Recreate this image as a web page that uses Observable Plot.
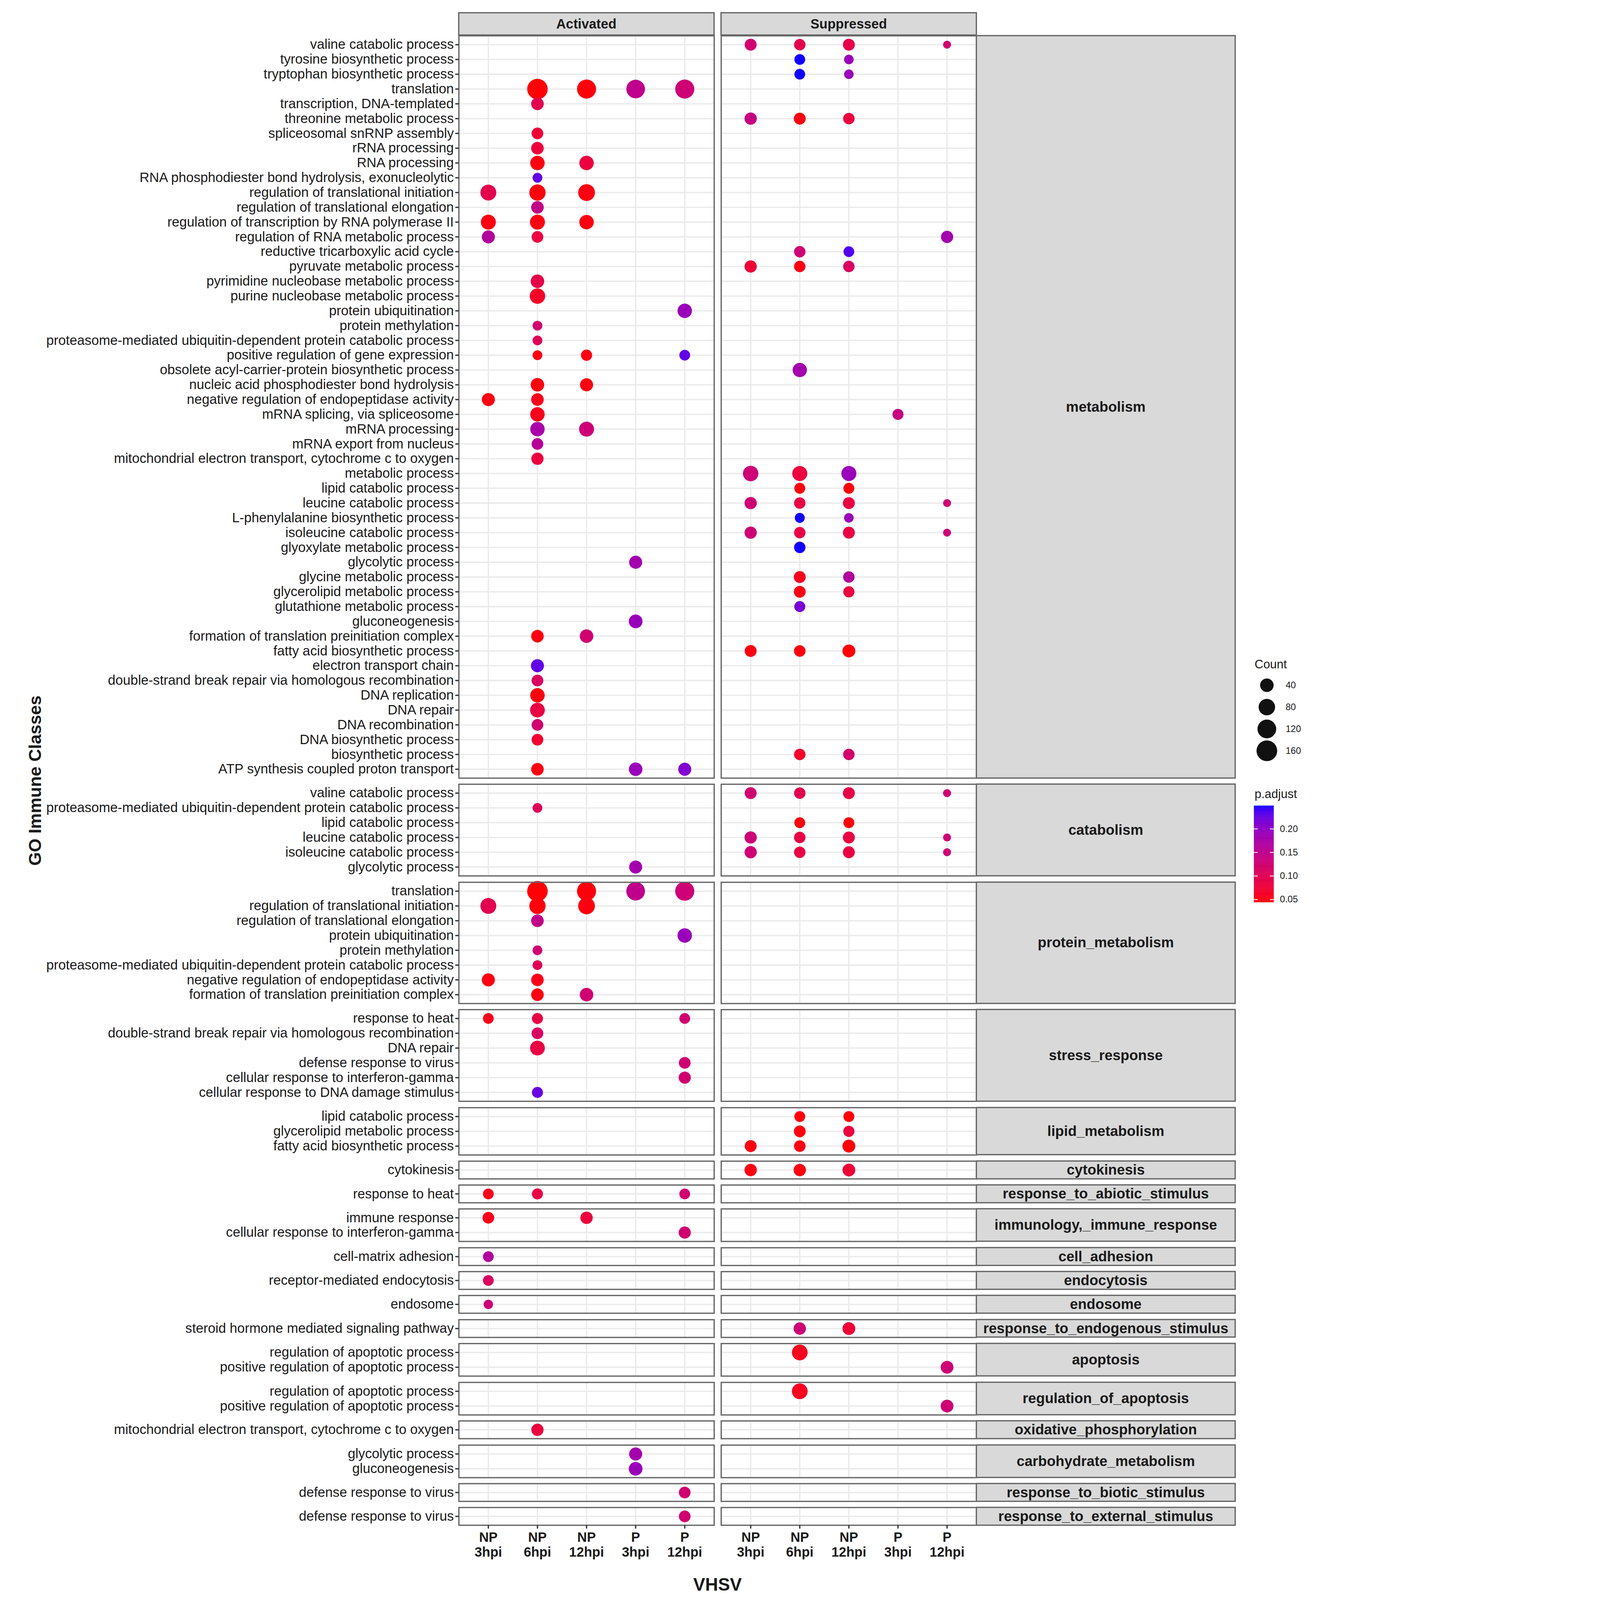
<!DOCTYPE html>
<html><head><meta charset="utf-8">
<script src="https://cdn.jsdelivr.net/npm/d3@7"></script>
<script src="https://cdn.jsdelivr.net/npm/@observablehq/plot@0.6"></script>
<style>
html,body{margin:0;padding:0;background:#fff;overflow:hidden;}
#chart{position:absolute;left:0;top:0;width:4152px;height:5026px;background:#fff;font-family:"Liberation Sans",Arial,sans-serif;overflow:hidden;color:#1a1a1a;transform-origin:0 0;}
.strip{position:absolute;background:#D9D9D9;border:4px solid #666;box-sizing:border-box;display:flex;align-items:center;justify-content:center;font-weight:bold;color:#1a1a1a;white-space:nowrap;}
.txt{position:absolute;white-space:nowrap;line-height:1;}
</style></head><body><div id="chart"></div><script>
// ---------------- data ----------------
const conditions = ["NP3","NP6","NP12","P3","P12"];
const conditionTicks = ["NP\n3hpi","NP\n6hpi","NP\n12hpi","P\n3hpi","P\n12hpi"];
const directions = ["Activated","Suppressed"];
const classNames = ["metabolism","catabolism","protein_metabolism","stress_response","lipid_metabolism","cytokinesis","response_to_abiotic_stimulus","immunology,_immune_response","cell_adhesion","endocytosis","endosome","response_to_endogenous_stimulus","apoptosis","regulation_of_apoptosis","oxidative_phosphorylation","carbohydrate_metabolism","response_to_biotic_stimulus","response_to_external_stimulus"];
const metabolismTerms = ["valine catabolic process","tyrosine biosynthetic process","tryptophan biosynthetic process","translation","transcription, DNA-templated","threonine metabolic process","spliceosomal snRNP assembly","rRNA processing","RNA processing","RNA phosphodiester bond hydrolysis, exonucleolytic","regulation of translational initiation","regulation of translational elongation","regulation of transcription by RNA polymerase II","regulation of RNA metabolic process","reductive tricarboxylic acid cycle","pyruvate metabolic process","pyrimidine nucleobase metabolic process","purine nucleobase metabolic process","protein ubiquitination","protein methylation","proteasome-mediated ubiquitin-dependent protein catabolic process","positive regulation of gene expression","obsolete acyl-carrier-protein biosynthetic process","nucleic acid phosphodiester bond hydrolysis","negative regulation of endopeptidase activity","mRNA splicing, via spliceosome","mRNA processing","mRNA export from nucleus","mitochondrial electron transport, cytochrome c to oxygen","metabolic process","lipid catabolic process","leucine catabolic process","L-phenylalanine biosynthetic process","isoleucine catabolic process","glyoxylate metabolic process","glycolytic process","glycine metabolic process","glycerolipid metabolic process","glutathione metabolic process","gluconeogenesis","formation of translation preinitiation complex","fatty acid biosynthetic process","electron transport chain","double-strand break repair via homologous recombination","DNA replication","DNA repair","DNA recombination","DNA biosynthetic process","biosynthetic process","ATP synthesis coupled proton transport"];
const classTerms = [
  metabolismTerms,
  ["valine catabolic process","proteasome-mediated ubiquitin-dependent protein catabolic process","lipid catabolic process","leucine catabolic process","isoleucine catabolic process","glycolytic process"],
  ["translation","regulation of translational initiation","regulation of translational elongation","protein ubiquitination","protein methylation","proteasome-mediated ubiquitin-dependent protein catabolic process","negative regulation of endopeptidase activity","formation of translation preinitiation complex"],
  ["response to heat","double-strand break repair via homologous recombination","DNA repair","defense response to virus","cellular response to interferon-gamma","cellular response to DNA damage stimulus"],
  ["lipid catabolic process","glycerolipid metabolic process","fatty acid biosynthetic process"],
  ["cytokinesis"],
  ["response to heat"],
  ["immune response","cellular response to interferon-gamma"],
  ["cell-matrix adhesion"],
  ["receptor-mediated endocytosis"],
  ["endosome"],
  ["steroid hormone mediated signaling pathway"],
  ["regulation of apoptotic process","positive regulation of apoptotic process"],
  ["regulation of apoptotic process","positive regulation of apoptotic process"],
  ["mitochondrial electron transport, cytochrome c to oxygen"],
  ["glycolytic process","gluconeogenesis"],
  ["defense response to virus"],
  ["defense response to virus"]
];
// [term, condition, Count, p.adjust]
const activated = [
  ["translation","NP6",156,0.046],["translation","NP12",126,0.048],["translation","P3",118,0.15],["translation","P12",126,0.13],
  ["transcription, DNA-templated","NP6",30,0.095],
  ["spliceosomal snRNP assembly","NP6",22,0.075],
  ["rRNA processing","NP6",30,0.08],
  ["RNA processing","NP6",51,0.05],["RNA processing","NP12",51,0.08],
  ["RNA phosphodiester bond hydrolysis, exonucleolytic","NP6",9,0.228],
  ["regulation of translational initiation","NP3",71,0.095],["regulation of translational initiation","NP6",77,0.048],["regulation of translational initiation","NP12",85,0.05],
  ["regulation of translational elongation","NP6",30,0.145],
  ["regulation of transcription by RNA polymerase II","NP3",58,0.05],["regulation of transcription by RNA polymerase II","NP6",58,0.05],["regulation of transcription by RNA polymerase II","NP12",51,0.05],
  ["regulation of RNA metabolic process","NP3",35,0.165],["regulation of RNA metabolic process","NP6",22,0.08],
  ["pyrimidine nucleobase metabolic process","NP6",40,0.09],
  ["purine nucleobase metabolic process","NP6",64,0.062],
  ["protein ubiquitination","P12",51,0.19],
  ["protein methylation","NP6",9,0.125],
  ["proteasome-mediated ubiquitin-dependent protein catabolic process","NP6",9,0.10],
  ["positive regulation of gene expression","NP6",9,0.05],["positive regulation of gene expression","NP12",18,0.05],["positive regulation of gene expression","P12",15,0.228],
  ["nucleic acid phosphodiester bond hydrolysis","NP6",40,0.048],["nucleic acid phosphodiester bond hydrolysis","NP12",35,0.05],
  ["negative regulation of endopeptidase activity","NP3",35,0.05],["negative regulation of endopeptidase activity","NP6",30,0.055],
  ["mRNA splicing, via spliceosome","NP6",51,0.055],
  ["mRNA processing","NP6",51,0.175],["mRNA processing","NP12",58,0.13],
  ["mRNA export from nucleus","NP6",22,0.16],
  ["mitochondrial electron transport, cytochrome c to oxygen","NP6",27,0.08],
  ["glycolytic process","P3",35,0.18],
  ["gluconeogenesis","P3",42,0.19],
  ["formation of translation preinitiation complex","NP6",30,0.05],["formation of translation preinitiation complex","NP12",40,0.125],
  ["electron transport chain","NP6",35,0.228],
  ["double-strand break repair via homologous recombination","NP6",22,0.11],
  ["DNA replication","NP6",51,0.048],
  ["DNA repair","NP6",55,0.085],
  ["DNA recombination","NP6",22,0.125],
  ["DNA biosynthetic process","NP6",22,0.07],
  ["ATP synthesis coupled proton transport","NP6",30,0.05],["ATP synthesis coupled proton transport","P3",40,0.19],["ATP synthesis coupled proton transport","P12",35,0.21],
  ["response to heat","NP3",15,0.055],["response to heat","NP6",17,0.085],["response to heat","P12",15,0.125],
  ["defense response to virus","P12",22,0.125],
  ["cellular response to interferon-gamma","P12",26,0.125],
  ["cellular response to DNA damage stimulus","NP6",17,0.225],
  ["immune response","NP3",22,0.055],["immune response","NP12",28,0.08],
  ["cell-matrix adhesion","NP3",15,0.165],
  ["receptor-mediated endocytosis","NP3",15,0.11],
  ["endosome","NP3",7,0.13]
];
const suppressed = [
  ["valine catabolic process","NP3",24,0.125],["valine catabolic process","NP6",20,0.095],["valine catabolic process","NP12",24,0.09],["valine catabolic process","P12",2,0.125],
  ["tyrosine biosynthetic process","NP6",15,0.248],["tyrosine biosynthetic process","NP12",8,0.19],
  ["tryptophan biosynthetic process","NP6",15,0.248],["tryptophan biosynthetic process","NP12",8,0.19],
  ["threonine metabolic process","NP3",27,0.14],["threonine metabolic process","NP6",24,0.05],["threonine metabolic process","NP12",20,0.08],
  ["regulation of RNA metabolic process","P12",27,0.18],
  ["reductive tricarboxylic acid cycle","NP6",20,0.13],["reductive tricarboxylic acid cycle","NP12",15,0.235],
  ["pyruvate metabolic process","NP3",27,0.075],["pyruvate metabolic process","NP6",20,0.05],["pyruvate metabolic process","NP12",20,0.11],
  ["obsolete acyl-carrier-protein biosynthetic process","NP6",49,0.18],
  ["mRNA splicing, via spliceosome","P3",17,0.14],
  ["metabolic process","NP3",64,0.13],["metabolic process","NP6",59,0.08],["metabolic process","NP12",59,0.19],
  ["lipid catabolic process","NP6",16,0.048],["lipid catabolic process","NP12",16,0.046],
  ["leucine catabolic process","NP3",27,0.13],["leucine catabolic process","NP6",20,0.085],["leucine catabolic process","NP12",24,0.085],["leucine catabolic process","P12",2,0.13],
  ["L-phenylalanine biosynthetic process","NP6",10,0.248],["L-phenylalanine biosynthetic process","NP12",8,0.19],
  ["isoleucine catabolic process","NP3",27,0.13],["isoleucine catabolic process","NP6",20,0.085],["isoleucine catabolic process","NP12",24,0.085],["isoleucine catabolic process","P12",2,0.13],
  ["glyoxylate metabolic process","NP6",20,0.248],
  ["glycine metabolic process","NP6",24,0.055],["glycine metabolic process","NP12",20,0.165],
  ["glycerolipid metabolic process","NP6",23,0.05],["glycerolipid metabolic process","NP12",18,0.08],
  ["glutathione metabolic process","NP6",17,0.215],
  ["fatty acid biosynthetic process","NP3",24,0.05],["fatty acid biosynthetic process","NP6",21,0.05],["fatty acid biosynthetic process","NP12",33,0.046],
  ["biosynthetic process","NP6",20,0.065],["biosynthetic process","NP12",20,0.12],
  ["cytokinesis","NP3",28,0.05],["cytokinesis","NP6",28,0.05],["cytokinesis","NP12",32,0.075],
  ["steroid hormone mediated signaling pathway","NP6",28,0.13],["steroid hormone mediated signaling pathway","NP12",32,0.075],
  ["regulation of apoptotic process","NP6",69,0.058],
  ["positive regulation of apoptotic process","P12",32,0.13]
];
const sizeBreaks = [40,80,120,160];
const colorBreaks = [0.05,0.10,0.15,0.20];
const sizeDomain = [2,160];
const colorDomain = [0.044,0.249];

(function () {
// ---------------- layout / style ----------------
const FONT = '"Liberation Sans", Arial, sans-serif';
const W = 4152, H = 5026;
const U = 46.45, GAP = 19.5, TOP0 = 112;
const PANEL_L = 1441, PANEL_W = 802, SUP_L = 2265, STRIP_W = 815;
const M = 5;
const chart = document.getElementById("chart");

// keep the whole figure inside the photographed viewport
function fit() {
  const vw = window.innerWidth || W, vh = window.innerHeight || H;
  const s = Math.min(1, vw / W, vh / H);
  chart.style.transform = s < 1 ? "scale(" + s + ")" : "none";
}
fit();
window.addEventListener("resize", fit);

const records = [
  ...activated.map(([term, cond, count, padj]) => ({direction: "Activated", term, cond, count, padj})),
  ...suppressed.map(([term, cond, count, padj]) => ({direction: "Suppressed", term, cond, count, padj}))
];
const rScale = {type: "sqrt", domain: sizeDomain, range: [12.5, 32.5]};
const colorScale = {type: "linear", domain: colorDomain, range: ["#ff0000", "#0000ff"], interpolate: d3.interpolateLab};
const svgStyle = {background: "transparent", overflow: "visible", maxWidth: "none", fontFamily: FONT};

function put(el, left, topPx) {
  el.style.position = "absolute";
  el.style.left = left + "px";
  el.style.top = topPx + "px";
  chart.appendChild(el);
  return el;
}
function textDiv(text, left, topPx, css) {
  const d = document.createElement("div");
  d.className = "txt";
  d.textContent = text;
  Object.assign(d.style, css || {});
  return put(d, left, topPx);
}
function strip(text, left, topPx, w, h, fs) {
  const d = document.createElement("div");
  d.className = "strip";
  d.textContent = text;
  d.style.width = w + "px";
  d.style.height = h + "px";
  d.style.fontSize = fs + "px";
  return put(d, left, topPx);
}

function panel(dir, terms, data, ph, withY, withX) {
  const ml = withY ? PANEL_L : M;
  const mb = withX ? 150 : M;
  return Plot.plot({
    width: ml + PANEL_W + M,
    height: M + ph + mb,
    marginLeft: ml, marginRight: M, marginTop: M, marginBottom: mb,
    style: svgStyle,
    x: {type: "point", domain: conditions, padding: 0.6, round: false, axis: null},
    y: {type: "point", domain: terms, padding: 0.6, round: false, axis: null},
    r: rScale,
    color: colorScale,
    marks: [
      Plot.gridX(conditions, {stroke: "#EBEBEB", strokeOpacity: 1, strokeWidth: 4.4}),
      Plot.gridY(terms, {stroke: "#EBEBEB", strokeOpacity: 1, strokeWidth: 4.4}),
      Plot.dot(data.filter(d => d.direction === dir), {x: "cond", y: "term", r: "count", fill: "padj", stroke: null}),
      Plot.frame({stroke: "#666", strokeWidth: 4}),
      withY ? Plot.axisY(terms, {tickSize: 11, tickPadding: 5, fontSize: 42.5, color: "#1a1a1a", stroke: "#333", strokeWidth: 4, label: null}) : null,
      withX ? Plot.axisX(conditions, {tickSize: 11, tickPadding: 7, fontSize: 42, fontWeight: "bold", lineHeight: 1.12,
        tickFormat: d => conditionTicks[conditions.indexOf(d)], color: "#1a1a1a", stroke: "#333", strokeWidth: 4, label: null}) : null
    ]
  });
}

// top strips
strip(directions[0], PANEL_L - 2, 38, PANEL_W + 4, 74, 42);
strip(directions[1], SUP_L - 2, 38, PANEL_W + 4, 74, 42);

let yPos = TOP0;
classNames.forEach((cls, i) => {
  const terms = classTerms[i];
  const ph = (terms.length + 0.2) * U;
  const last = i === classNames.length - 1;
  const data = records.filter(d => terms.includes(d.term));
  put(panel("Activated", terms, data, ph, true, last), 0, yPos - M);
  put(panel("Suppressed", terms, data, ph, false, last), SUP_L - M, yPos - M);
  strip(cls, SUP_L + PANEL_W - 2, yPos - 2, STRIP_W + 2, ph + 4, 45);
  yPos += ph + GAP;
});

// axis titles
textDiv("GO Immune Classes", 110, 2452, {fontSize: "55px", fontWeight: "bold", transform: "translate(-50%,-50%) rotate(-90deg)"});
textDiv("VHSV", 2254, 4977, {fontSize: "56px", fontWeight: "bold", transform: "translate(-50%,-50%)"});

// size legend
textDiv("Count", 3941, 2067, {fontSize: "38px"});
put(Plot.plot({
  width: 200, height: 290, marginTop: 42, marginBottom: 42, marginLeft: 0, marginRight: 0,
  style: svgStyle,
  y: {type: "point", domain: sizeBreaks, padding: 0, round: false, axis: null},
  r: rScale,
  marks: [
    Plot.dot(sizeBreaks, {y: d => d, r: d => d, fill: "#111", stroke: null, frameAnchor: "left", dx: 40}),
    Plot.text(sizeBreaks, {y: d => d, text: d => String(d), frameAnchor: "left", dx: 99, textAnchor: "start", fontSize: 29, fill: "#1a1a1a"})
  ]
}), 3939, 2110);

// colour legend
textDiv("p.adjust", 3941, 2475, {fontSize: "38px"});
const ramp = d3.range(120).map(k => [colorDomain[0] + (colorDomain[1] - colorDomain[0]) * k / 120, colorDomain[0] + (colorDomain[1] - colorDomain[0]) * (k + 1) / 120]);
put(Plot.plot({
  width: 200, height: 323, marginTop: 10, marginBottom: 10, marginLeft: 0, marginRight: 138,
  style: svgStyle,
  y: {type: "linear", domain: colorDomain, axis: null},
  color: colorScale,
  marks: [
    Plot.rect(ramp, {y1: d => d[0], y2: d => d[1], fill: d => (d[0] + d[1]) / 2, stroke: d => (d[0] + d[1]) / 2, strokeWidth: 0.6}),
    Plot.tickY(colorBreaks, {y: d => d, stroke: "white", strokeWidth: 2.5, insetRight: 50}),
    Plot.tickY(colorBreaks, {y: d => d, stroke: "white", strokeWidth: 2.5, insetLeft: 50}),
    Plot.text(colorBreaks, {y: d => d, text: d => d.toFixed(2), frameAnchor: "right", dx: 19, textAnchor: "start", fontSize: 29, fill: "#1a1a1a"})
  ]
}), 3939, 2521);
})();
</script></body></html>
